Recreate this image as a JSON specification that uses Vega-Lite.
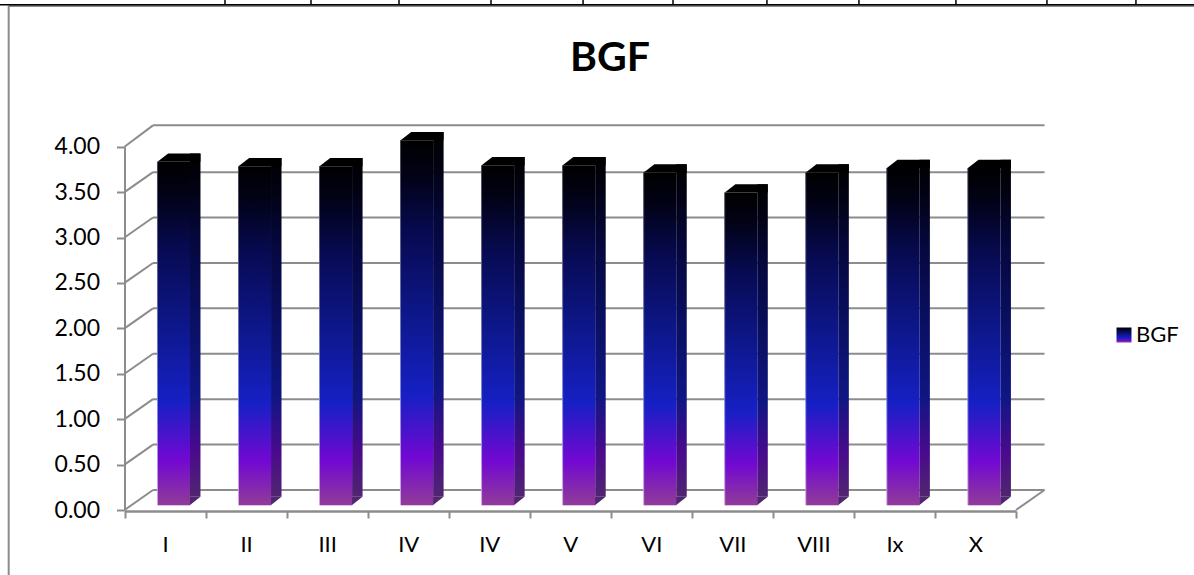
{
"$schema":"https://vega.github.io/schema/vega-lite/v6.json",
"width":1194,"height":575,"padding":0,"autosize":{"type":"none"},
"background":"white",
"config":{"view":{"stroke":null},"font":"Lato","axis":{"grid":false}},
"title":{"text":"BGF","font":"Lato","fontSize":41,"fontWeight":"bold","color":"#000000","anchor":"middle","orient":"top","offset":-81,"dx":13},
"datasets":{
"bars":[
{"idx":1,"label":"I","BGF":3.78},{"idx":2,"label":"II","BGF":3.73},{"idx":3,"label":"III","BGF":3.73},{"idx":4,"label":"IV","BGF":4.015},{"idx":5,"label":"IV","BGF":3.74},{"idx":6,"label":"V","BGF":3.74},{"idx":7,"label":"VI","BGF":3.66},{"idx":8,"label":"VII","BGF":3.44},{"idx":9,"label":"VIII","BGF":3.66},{"idx":10,"label":"Ix","BGF":3.71},{"idx":11,"label":"X","BGF":3.71}],
"walls":[
{"x0":0,"x1":0.352,"y0":0,"y1":0.22},{"x0":0,"x1":0.352,"y0":0.5,"y1":0.72},{"x0":0,"x1":0.352,"y0":1,"y1":1.22},{"x0":0,"x1":0.352,"y0":1.5,"y1":1.72},{"x0":0,"x1":0.352,"y0":2,"y1":2.22},{"x0":0,"x1":0.352,"y0":2.5,"y1":2.72},{"x0":0,"x1":0.352,"y0":3,"y1":3.22},{"x0":0,"x1":0.352,"y0":3.5,"y1":3.72},{"x0":0,"x1":0.352,"y0":4,"y1":4.235},
{"x0":0.352,"x1":11.352,"y0":0.22,"y1":0.22},{"x0":0.352,"x1":11.352,"y0":0.72,"y1":0.72},{"x0":0.352,"x1":11.352,"y0":1.22,"y1":1.22},{"x0":0.352,"x1":11.352,"y0":1.72,"y1":1.72},{"x0":0.352,"x1":11.352,"y0":2.22,"y1":2.22},{"x0":0.352,"x1":11.352,"y0":2.72,"y1":2.72},{"x0":0.352,"x1":11.352,"y0":3.22,"y1":3.22},{"x0":0.352,"x1":11.352,"y0":3.72,"y1":3.72},{"x0":0.352,"x1":11.352,"y0":4.235,"y1":4.235},
{"x0":11,"x1":11.352,"y0":0,"y1":0.22}],
"frameGray":[{"x0":-1.429,"x1":13.2,"y0":5.549,"y1":5.549},{"x0":-1.429,"x1":-1.429,"y0":5.549,"y1":-0.72}],
"frameBlack":[{"x0":-1.54,"x1":13.2,"y0":5.563,"y1":5.563},
{"x0":1.24,"x1":1.24,"y0":5.62,"y1":5.563},{"x0":2.301,"x1":2.301,"y0":5.62,"y1":5.563},{"x0":3.387,"x1":3.387,"y0":5.62,"y1":5.563},{"x0":4.522,"x1":4.522,"y0":5.62,"y1":5.563},{"x0":5.658,"x1":5.658,"y0":5.62,"y1":5.563},{"x0":6.768,"x1":6.768,"y0":5.62,"y1":5.563},{"x0":7.927,"x1":7.927,"y0":5.62,"y1":5.563},{"x0":9.062,"x1":9.062,"y0":5.62,"y1":5.563},{"x0":10.259,"x1":10.259,"y0":5.62,"y1":5.563},{"x0":11.382,"x1":11.382,"y0":5.62,"y1":5.563},{"x0":12.48,"x1":12.48,"y0":5.62,"y1":5.563}]
},
"resolve":{"scale":{"x":"independent"},"axis":{"x":"independent","y":"independent"}},
"layer":[
{"resolve":{"axis":{"x":"independent","y":"independent"}},"layer":[
{"data":{"name":"frameGray"},"mark":{"type":"rule","color":"#8c8c8c","strokeWidth":2},
 "encoding":{"x":{"field":"x0","type":"quantitative","axis":null,"scale":{"domain":[0,11],"range":[124.5,1016],"nice":false,"zero":false}},"x2":{"field":"x1"},
 "y":{"field":"y0","type":"quantitative","axis":null,"scale":{"domain":[0,4],"range":[510,146.7],"nice":false,"zero":false}},"y2":{"field":"y1"}}},
{"data":{"name":"frameBlack"},"mark":{"type":"rule","color":"#000000","strokeWidth":1.5},
 "encoding":{"x":{"field":"x0","type":"quantitative","axis":null,"scale":{"domain":[0,11],"range":[124.5,1016],"nice":false,"zero":false}},"x2":{"field":"x1"},
 "y":{"field":"y0","type":"quantitative","axis":null,"scale":{"domain":[0,4],"range":[510,146.7],"nice":false,"zero":false}},"y2":{"field":"y1"}}},
{"data":{"name":"walls"},"mark":{"type":"rule","color":"#8c8c8c","strokeWidth":2},
 "encoding":{"x":{"field":"x0","type":"quantitative","axis":null,"scale":{"domain":[0,11],"range":[124.5,1016],"nice":false,"zero":false}},"x2":{"field":"x1"},
 "y":{"field":"y0","type":"quantitative","axis":{"offset":-124.5,"values":[0,0.5,1,1.5,2,2.5,3,3.5,4],"format":".2f","title":null,"domainColor":"#8c8c8c","domainWidth":2,"tickColor":"#8c8c8c","tickWidth":2,"tickSize":8,"labelFont":"Lato","labelFontSize":23,"labelColor":"#000000","labelPadding":17},"scale":{"domain":[0,4],"range":[510,146.7],"nice":false,"zero":false}},"y2":{"field":"y1"}}}
]},
{"data":{"name":"bars"},"resolve":{"axis":{"x":"independent","y":"independent"}},"layer":[
{"mark":{"type":"bar","width":10.5,"xOffset":30.2,"yOffset":-13.3,"y2Offset":-13.3,"fill":{"gradient":"linear","x1":0,"y1":1,"x2":0,"y2":0,"stops":[{"offset":0,"color":"#502670"},{"offset":0.13,"color":"#4a0a8c"},{"offset":0.3,"color":"#0f1682"},{"offset":0.5,"color":"#0a1064"},{"offset":0.75,"color":"#05073c"},{"offset":0.9,"color":"#020214"},{"offset":1,"color":"#000000"}]}},
 "encoding":{"x":{"field":"idx","type":"ordinal","sort":null,"scale":{"range":[124.5,1016],"paddingInner":0,"paddingOuter":0},
 "axis":{"title":null,"offset":-64,"tickBand":"extent","domainColor":"#8c8c8c","domainWidth":2.4,"tickColor":"#8c8c8c","tickWidth":2,"tickSize":7,"labelAngle":0,"labelFont":"Lato","labelFontSize":22,"labelColor":"#000000","labelPadding":16,"labelExpr":"['I','II','III','IV','IV','V','VI','VII','VIII','Ix','X'][datum.value-1]"}},
 "y":{"field":"BGF","type":"quantitative","axis":null,"scale":{"domain":[0,4],"range":[510,146.7],"nice":false,"zero":false}},"y2":{"datum":0}}},
{"mark":{"type":"point","filled":true,"opacity":1,"size":4,"strokeWidth":0,"fill":"#502670","xOffset":8.7,"yOffset":-5,"shape":"M16,0.3L26.7,-8.3L16,-8.3Z"},
 "encoding":{"x":{"field":"idx","type":"ordinal","axis":null},"y":{"datum":0,"type":"quantitative","axis":null}}},
{"mark":{"type":"bar","width":32.6,"xOffset":8.7,"yOffset":-5,"y2Offset":-5,"fill":{"gradient":"linear","x1":0,"y1":1,"x2":0,"y2":0,"stops":[{"offset":0,"color":"#903c98"},{"offset":0.13,"color":"#7208d2"},{"offset":0.3,"color":"#1620c4"},{"offset":0.5,"color":"#0e1890"},{"offset":0.75,"color":"#070a50"},{"offset":0.9,"color":"#020218"},{"offset":1,"color":"#000000"}]}},
 "encoding":{"x":{"field":"idx","type":"ordinal","axis":null},"y":{"field":"BGF","type":"quantitative","axis":null},"y2":{"datum":0}}},
{"mark":{"type":"bar","width":0.9,"xOffset":-7.6,"yOffset":-5,"y2Offset":-5,"fill":{"gradient":"linear","x1":0,"y1":1,"x2":0,"y2":0,"stops":[{"offset":0,"color":"#d8a8e4"},{"offset":0.3,"color":"#8088d8"},{"offset":1,"color":"#404050"}]}},
 "encoding":{"x":{"field":"idx","type":"ordinal","axis":null},"y":{"field":"BGF","type":"quantitative","axis":null},"y2":{"datum":0}}},
{"mark":{"type":"point","filled":true,"opacity":1,"size":4,"strokeWidth":0,"fill":"#d8a8e4","xOffset":8.7,"yOffset":-5,"shape":"M-16.3,0L16.3,0L16.3,0.8L-16.3,0.8Z"},
 "encoding":{"x":{"field":"idx","type":"ordinal","axis":null},"y":{"datum":0,"type":"quantitative","axis":null}}},
{"mark":{"type":"point","filled":true,"opacity":1,"size":4,"strokeWidth":0,"fill":"#000000","xOffset":8.7,"yOffset":-5,"shape":"M-16.3,0L-5.6,-8.3L26.7,-8.3L26.7,0L16.3,0Z"},
 "encoding":{"x":{"field":"idx","type":"ordinal","axis":null},"y":{"field":"BGF","type":"quantitative","axis":null}}},
{"transform":[{"filter":"datum.idx<0"}],
 "mark":{"type":"point","filled":true,"opacity":1,"fill":{"gradient":"linear","x1":0,"y1":1,"x2":0,"y2":0,"stops":[{"offset":0,"color":"#903c98"},{"offset":0.13,"color":"#7208d2"},{"offset":0.3,"color":"#1620c4"},{"offset":0.5,"color":"#0e1890"},{"offset":0.75,"color":"#070a50"},{"offset":0.9,"color":"#020218"},{"offset":1,"color":"#000000"}]}},
 "encoding":{"x":{"field":"idx","type":"ordinal","axis":null},"y":{"field":"BGF","type":"quantitative","axis":null},
 "shape":{"datum":"BGF","type":"nominal","scale":{"domain":["BGF"],"range":["square"]},
 "legend":{"title":null,"orient":"none","legendX":1113,"legendY":324,"symbolType":"square","symbolSize":225,"symbolStrokeWidth":0,"labelFont":"Lato","labelFontSize":22,"labelColor":"#000000","labelOffset":1}}}}
]}
]}
